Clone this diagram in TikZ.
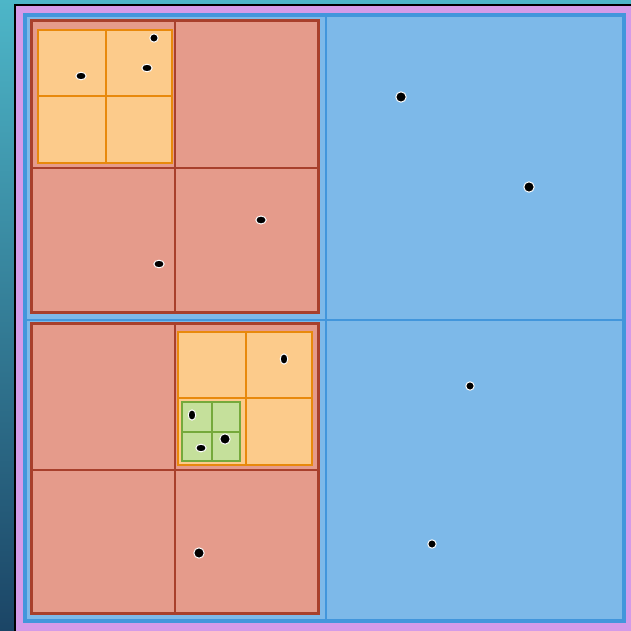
\documentclass[tikz,border=0pt]{standalone}
\usetikzlibrary{shapes.geometric}
\definecolor{bgtop}{HTML}{4DB6C8}
\definecolor{bgbot}{HTML}{1B4566}
\definecolor{lav}{HTML}{D49BE8}
\definecolor{bfill}{HTML}{7DB9E9}
\definecolor{bline}{HTML}{4296DC}
\definecolor{rfill}{HTML}{E59B8B}
\definecolor{rline}{HTML}{A8402C}
\definecolor{ofill}{HTML}{FCCB8B}
\definecolor{oline}{HTML}{E8890C}
\definecolor{gfill}{HTML}{C5E09B}
\definecolor{gline}{HTML}{75A93B}
\tikzset{
  bluebox/.style={fill=bfill,draw=bline,line width=3.5pt},
  bluediv/.style={draw=bline,line width=2pt},
  redbox/.style={fill=rfill,draw=rline,line width=3pt},
  reddiv/.style={draw=rline,line width=2pt},
  orabox/.style={fill=ofill,draw=oline,line width=2.2pt},
  oradiv/.style={draw=oline,line width=2pt},
  grnbox/.style={fill=gfill,draw=gline,line width=2.2pt},
  grndiv/.style={draw=gline,line width=2pt},
  ptbig/.style={fill=black,draw=white,line width=1pt},
}
\begin{document}
\begin{tikzpicture}[x=1pt,y=-1pt]
\useasboundingbox (0,0) rectangle (631,631);
% background gradient
\shade[top color=bgtop,bottom color=bgbot] (0,0) rectangle (631,631);
% black framed lavender panel
\draw[fill=lav,draw=black,line width=2pt] (15,5) rectangle (645,645);
% blue root square
\draw[bluebox] (25,15) rectangle (624,621);
\draw[bluediv] (326,15) -- (326,621);
\draw[bluediv] (25,320) -- (624,320);
% red squares
\draw[redbox] (31,21) rectangle (318,312.5);
\draw[reddiv] (175,21) -- (175,312.5);
\draw[reddiv] (31,168) -- (318,168);
\draw[redbox] (31,323.5) rectangle (318,613);
\draw[reddiv] (175,323.5) -- (175,613);
\draw[reddiv] (31,470) -- (318,470);
% orange squares
\draw[orabox] (38,30) rectangle (172,163);
\draw[oradiv] (106,30) -- (106,163);
\draw[oradiv] (38,96) -- (172,96);
\draw[orabox] (178,332) rectangle (312,465);
\draw[oradiv] (246,332) -- (246,465);
\draw[oradiv] (178,398) -- (312,398);
% green square
\draw[grnbox] (182,402) rectangle (240,461);
\draw[grndiv] (211.5,402) -- (211.5,461);
\draw[grndiv] (182,432) -- (240,432);
% points
\draw[ptbig] (154,38) circle[radius=4.2];
\draw[ptbig] (81,76) ellipse[x radius=5.2,y radius=3.8];
\draw[ptbig] (147,68) ellipse[x radius=5.2,y radius=3.8];
\draw[ptbig] (401,97) circle[radius=5.2];
\draw[ptbig] (529,187) circle[radius=5.2];
\draw[ptbig] (261,220) ellipse[x radius=5.2,y radius=4];
\draw[ptbig] (159,264) ellipse[x radius=5.2,y radius=3.8];
\draw[ptbig] (284,359) ellipse[x radius=3.8,y radius=5.2];
\draw[ptbig] (470,386) circle[radius=4.2];
\draw[ptbig] (192,415) ellipse[x radius=3.8,y radius=5.2];
\draw[ptbig] (225,439) circle[radius=5.2];
\draw[ptbig] (201,448) ellipse[x radius=5.2,y radius=3.8];
\draw[ptbig] (199,553) circle[radius=5.2];
\draw[ptbig] (432,544) circle[radius=4.2];
\end{tikzpicture}
\end{document}
